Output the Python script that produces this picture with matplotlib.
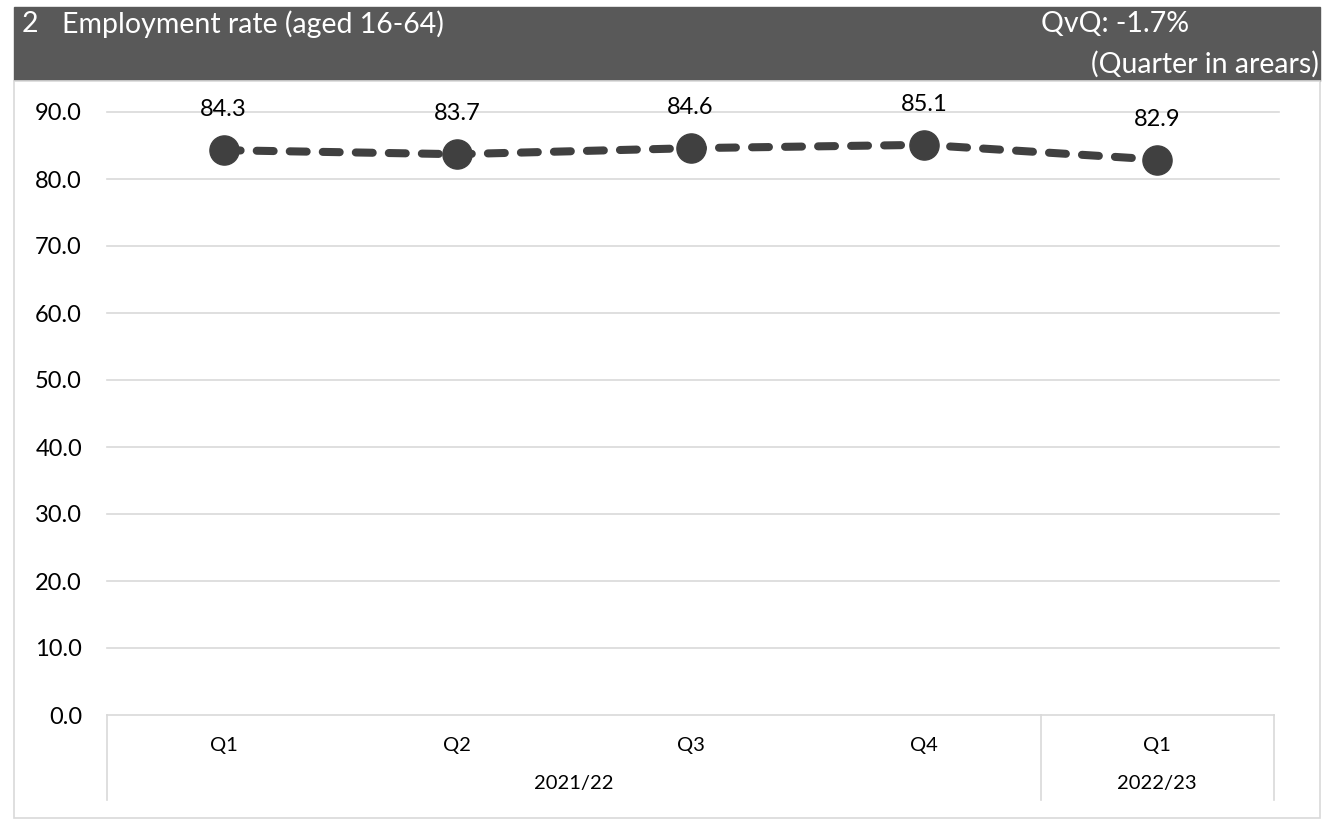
import numpy as np
import matplotlib.pyplot as plt
from matplotlib.patches import Rectangle
import matplotlib.transforms as mtransforms

quarters = ['Q1', 'Q2', 'Q3', 'Q4', 'Q1']
years = ['2021/22', '2022/23']
year_spans = [(0, 4), (4, 5)]
values = [84.3, 83.7, 84.6, 85.1, 82.9]
y_ticks = [0, 10, 20, 30, 40, 50, 60, 70, 80, 90]

plt.rcParams['font.family'] = ['Lato', 'DejaVu Sans']

W, H = 1327, 825
fig = plt.figure(figsize=(W / 100, H / 100), dpi=100)

def fx(px):
    return px / W

def fy(py):
    return 1 - py / H

# header band and chart frame
fig.patches.append(Rectangle((fx(14), fy(81)), fx(1320) - fx(14), fy(7) - fy(81),
                             transform=fig.transFigure, color='#595959', zorder=-2))
fig.patches.append(Rectangle((fx(14), fy(818)), fx(1320) - fx(14), fy(81) - fy(818),
                             transform=fig.transFigure, facecolor='white',
                             edgecolor='#d9d9d9', linewidth=1.2, zorder=-2))
hdr = dict(color='white', fontsize=20.5, va='center')
fig.text(fx(22), fy(24), '2', ha='left', **hdr)
fig.text(fx(62), fy(24), 'Employment rate (aged 16-64)', ha='left', **hdr)
fig.text(fx(1041), fy(24), 'QvQ: -1.7%', ha='left', **hdr)
fig.text(fx(1319), fy(64), '(Quarter in arears)', ha='right', **hdr)

ax = fig.add_axes([fx(107), fy(715), fx(1274) - fx(107), fy(112) - fy(715)])
ax.set_xlim(-0.5, len(values) - 0.5)
ax.set_ylim(0, 90)

x = np.arange(len(values))
ax.plot(x, values, color='#404040', linewidth=5.8, linestyle=(0, (2.1, 2.0)),
        dash_capstyle='round', marker='o', markersize=21, zorder=3, clip_on=False)
for xi, v in zip(x, values):
    ax.annotate(f'{v:.1f}', (xi, v), xytext=(0, 29), textcoords='offset points',
                ha='center', va='center', fontsize=17)

ax.set_yticks(y_ticks)
ax.set_yticklabels([f'{t:.1f}' for t in y_ticks], fontsize=17)
ax.tick_params(axis='y', length=0, pad=18)
ax.set_xticks([])
for t in y_ticks[1:]:
    ax.axhline(t, color='#d9d9d9', linewidth=1.2, zorder=1, xmax=1.004, clip_on=False)
for s in ['top', 'right', 'left']:
    ax.spines[s].set_visible(False)
ax.spines['bottom'].set_color('#d9d9d9')
ax.spines['bottom'].set_linewidth(1.2)

# multi-level category axis
trans = mtransforms.blended_transform_factory(ax.transData, fig.transFigure)
for xi, q in zip(x, quarters):
    ax.text(xi, fy(746), q, transform=trans, ha='center', va='center', fontsize=14.5)
for (a, b), yr in zip(year_spans, years):
    ax.text((a + b - 1) / 2, fy(784), yr, transform=trans, ha='center', va='center',
            fontsize=14.5)
for b in [-0.5, 3.5, 4.5]:
    ax.plot([b, b], [fy(715), fy(800)], transform=trans, color='#d9d9d9',
            linewidth=1.2, clip_on=False)

fig.savefig('out.png', dpi=100)
